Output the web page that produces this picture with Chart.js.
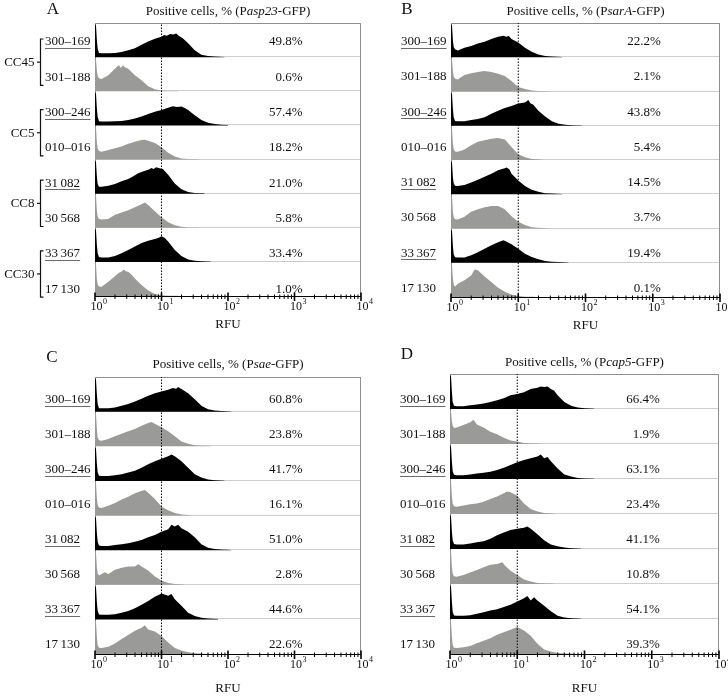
<!DOCTYPE html>
<html>
<head>
<meta charset="utf-8">
<title>GFP reporter histograms</title>
<script src="https://cdn.jsdelivr.net/npm/chart.js@4.4.0/dist/chart.umd.min.js"></script>
<style>
body { margin: 0; background: #fff; }
#fig { position: relative; width: 728px; height: 698px; }
#fig canvas { position: absolute; left: 0; top: 0; }
</style>
</head>
<body>
<div id="fig">
  <canvas id="pA" width="728" height="698"></canvas>
  <canvas id="pB" width="728" height="698"></canvas>
  <canvas id="pC" width="728" height="698"></canvas>
  <canvas id="pD" width="728" height="698"></canvas>
</div>
<script>
// ---------- data ----------
// strain rows, top to bottom (black = underlined reference strain)
var strains = ['300–169', '301–188', '300–246', '010–016', '31\u2009082', '30\u2009568', '33\u2009367', '17\u2009130'];
var isBlack = [1, 0, 1, 0, 1, 0, 1, 0];
var complexes = ['CC45', 'CC5', 'CC8', 'CC30'];
var promoters = ['asp23', 'sarA', 'sae', 'cap5'];
var tickPowers = [0, 1, 2, 3, 4];
var gateRFU = 10;

// positive cells, %
var pctA = [49.8, 0.6, 57.4, 18.2, 21.0, 5.8, 33.4, 1.0];
var pctB = [22.2, 2.1, 43.8, 5.4, 14.5, 3.7, 19.4, 0.1];
var pctC = [60.8, 23.8, 41.7, 16.1, 51.0, 2.8, 44.6, 22.6];
var pctD = [66.4, 1.9, 63.1, 23.4, 41.1, 10.8, 54.1, 39.3];

// histograms: pairs of log10(RFU), height as a share of the row
var histA = [
  [0,.97, .015,.93, .028,.5, .04,.25, .06,.12, .1,.11, .2,.11, .3,.12, .4,.15, .5,.2, .6,.26, .7,.36, .8,.46, .9,.54, 1,.6, 1.04,.65, 1.08,.63, 1.13,.68, 1.18,.66, 1.22,.69, 1.27,.61, 1.32,.55, 1.4,.41, 1.5,.2, 1.6,.07, 1.7,.03, 1.8,.015, 1.95,.006],
  [0,.97, .015,.93, .028,.6, .04,.45, .06,.38, .1,.36, .2,.47, .28,.62, .33,.72, .36,.76, .39,.68, .42,.76, .45,.7, .5,.66, .6,.47, .7,.32, .8,.15, .9,.06, 1,.02, 1.1,.01, 1.25,.004],
  [0,.97, .015,.93, .028,.5, .04,.25, .06,.12, .1,.11, .2,.11, .3,.12, .4,.13, .5,.16, .6,.2, .7,.26, .8,.33, .9,.4, 1,.45, 1.1,.52, 1.17,.56, 1.23,.54, 1.3,.55, 1.35,.51, 1.4,.45, 1.5,.3, 1.6,.16, 1.7,.08, 1.8,.04, 1.9,.02, 2,.01],
  [0,.97, .015,.93, .028,.5, .04,.32, .06,.25, .1,.23, .2,.28, .3,.33, .4,.38, .5,.46, .6,.52, .7,.57, .75,.58, .8,.55, .9,.48, 1,.36, 1.1,.2, 1.2,.09, 1.3,.03, 1.4,.015, 1.55,.005],
  [0,.97, .015,.93, .028,.5, .04,.28, .06,.2, .1,.2, .2,.23, .3,.28, .4,.36, .5,.43, .57,.5, .65,.6, .72,.65, .8,.7, .85,.75, .88,.72, .92,.77, .97,.74, 1.02,.72, 1.1,.55, 1.2,.3, 1.3,.13, 1.4,.05, 1.5,.02, 1.65,.008],
  [0,.97, .015,.93, .028,.5, .04,.32, .06,.26, .1,.24, .2,.26, .3,.38, .4,.45, .5,.51, .6,.6, .7,.69, .75,.74, .8,.67, .9,.48, 1,.31, 1.1,.16, 1.2,.07, 1.3,.03, 1.4,.01, 1.55,.004],
  [0,.97, .015,.93, .028,.5, .04,.25, .06,.14, .1,.13, .2,.13, .3,.17, .4,.25, .5,.35, .6,.45, .7,.55, .8,.62, .9,.67, .95,.7, 1,.75, 1.05,.7, 1.1,.6, 1.2,.35, 1.3,.17, 1.4,.07, 1.5,.03, 1.6,.015, 1.75,.006],
  [0,.97, .015,.93, .028,.5, .04,.34, .06,.28, .1,.27, .2,.42, .3,.58, .36,.68, .4,.71, .43,.78, .47,.72, .5,.71, .55,.62, .6,.51, .7,.32, .8,.16, .9,.06, 1,.02, 1.1,.01, 1.25,.004]
];
var histB = [
  [0,.97, .015,.93, .028,.5, .04,.3, .06,.23, .1,.2, .2,.28, .3,.33, .4,.4, .5,.45, .6,.53, .7,.6, .78,.63, .82,.6, .86,.62, .9,.53, 1,.43, 1.1,.28, 1.2,.16, 1.3,.08, 1.4,.04, 1.5,.02, 1.65,.008],
  [0,.97, .015,.93, .028,.6, .04,.44, .06,.37, .1,.35, .2,.48, .3,.53, .4,.57, .5,.6, .6,.57, .7,.52, .8,.45, .9,.31, 1,.13, 1.1,.07, 1.2,.03, 1.3,.015, 1.45,.005],
  [0,.97, .015,.93, .028,.5, .04,.25, .06,.14, .1,.13, .2,.13, .3,.17, .4,.2, .5,.25, .6,.35, .7,.44, .8,.52, .9,.58, 1,.65, 1.1,.68, 1.15,.75, 1.18,.66, 1.22,.62, 1.3,.44, 1.4,.27, 1.5,.13, 1.6,.06, 1.7,.03, 1.8,.015, 1.95,.006],
  [0,.97, .015,.93, .028,.5, .04,.32, .06,.25, .1,.24, .2,.31, .3,.43, .4,.53, .5,.58, .6,.62, .7,.64, .8,.6, .9,.38, 1,.17, 1.1,.08, 1.2,.03, 1.35,.008],
  [0,.97, .015,.93, .028,.5, .04,.32, .06,.25, .1,.24, .2,.27, .3,.34, .4,.42, .5,.51, .6,.6, .7,.7, .8,.76, .83,.78, .87,.72, .9,.6, 1,.4, 1.1,.24, 1.2,.13, 1.3,.07, 1.4,.03, 1.5,.02, 1.65,.006],
  [0,.97, .015,.93, .028,.5, .04,.33, .06,.27, .1,.26, .2,.34, .3,.49, .4,.56, .5,.62, .6,.66, .7,.66, .8,.56, .9,.36, 1,.2, 1.1,.1, 1.2,.04, 1.3,.02, 1.45,.006],
  [0,.97, .015,.93, .028,.5, .04,.25, .06,.16, .1,.15, .2,.15, .3,.22, .4,.31, .5,.41, .6,.51, .7,.6, .78,.66, .82,.62, .9,.54, 1,.41, 1.1,.26, 1.2,.17, 1.3,.1, 1.4,.05, 1.5,.03, 1.6,.02, 1.75,.007],
  [0,.97, .015,.93, .028,.55, .04,.36, .06,.3, .1,.39, .2,.49, .3,.63, .35,.8, .4,.78, .5,.6, .6,.44, .7,.27, .8,.15, .9,.07, 1,.03, 1.1,.01, 1.25,.004]
];
var histC = [
  [0,.97, .015,.93, .028,.5, .04,.22, .06,.1, .1,.1, .2,.1, .3,.12, .4,.17, .5,.22, .6,.29, .7,.37, .8,.46, .9,.53, 1,.58, 1.1,.63, 1.17,.68, 1.22,.66, 1.25,.71, 1.3,.65, 1.4,.53, 1.5,.36, 1.6,.17, 1.7,.07, 1.8,.03, 1.9,.015, 2.05,.006],
  [0,.97, .015,.93, .028,.5, .04,.25, .06,.17, .1,.16, .2,.21, .3,.29, .4,.36, .5,.43, .6,.5, .7,.59, .8,.67, .85,.7, .9,.65, 1,.55, 1.1,.43, 1.2,.29, 1.3,.14, 1.4,.07, 1.5,.03, 1.6,.015, 1.75,.005],
  [0,.97, .015,.93, .028,.5, .04,.25, .06,.15, .1,.14, .2,.14, .3,.16, .4,.19, .5,.24, .6,.29, .7,.38, .8,.48, .9,.57, 1,.64, 1.1,.71, 1.15,.76, 1.2,.71, 1.3,.57, 1.4,.38, 1.5,.19, 1.6,.1, 1.7,.04, 1.8,.02, 1.95,.006],
  [0,.97, .015,.93, .028,.5, .04,.3, .06,.23, .1,.22, .2,.28, .3,.36, .4,.46, .5,.54, .6,.64, .7,.71, .75,.74, .8,.66, .9,.48, 1,.26, 1.1,.15, 1.2,.07, 1.3,.03, 1.45,.008],
  [0,.97, .015,.93, .028,.5, .04,.25, .06,.13, .1,.12, .2,.12, .3,.15, .4,.17, .5,.2, .6,.24, .7,.29, .8,.37, .9,.44, 1,.53, 1.1,.6, 1.15,.73, 1.2,.68, 1.25,.73, 1.3,.63, 1.4,.53, 1.5,.37, 1.6,.17, 1.7,.07, 1.8,.03, 1.9,.015, 2.05,.006],
  [0,.97, .015,.93, .028,.5, .04,.33, .06,.27, .1,.31, .15,.36, .2,.31, .3,.43, .4,.49, .5,.53, .6,.53, .65,.59, .7,.53, .8,.41, .9,.24, 1,.12, 1.1,.05, 1.2,.02, 1.35,.006],
  [0,.97, .015,.93, .028,.5, .04,.25, .06,.14, .1,.13, .2,.13, .3,.15, .4,.19, .5,.24, .6,.32, .7,.42, .8,.53, .9,.65, 1,.75, 1.1,.68, 1.15,.73, 1.2,.58, 1.3,.39, 1.4,.19, 1.5,.1, 1.6,.05, 1.7,.025, 1.85,.008],
  [0,.97, .015,.93, .028,.5, .04,.25, .06,.18, .1,.17, .2,.21, .3,.3, .4,.43, .5,.55, .6,.67, .7,.76, .75,.83, .8,.71, .9,.65, 1,.52, 1.1,.33, 1.2,.17, 1.3,.1, 1.4,.05, 1.5,.02, 1.65,.006]
];
var histD = [
  [0,.97, .015,.93, .028,.5, .04,.2, .06,.09, .1,.08, .2,.08, .3,.11, .4,.13, .5,.16, .6,.2, .7,.25, .8,.31, .9,.39, 1,.43, 1.1,.48, 1.2,.57, 1.3,.61, 1.35,.64, 1.4,.63, 1.45,.64, 1.5,.57, 1.55,.52, 1.6,.39, 1.7,.2, 1.8,.09, 1.9,.04, 2,.02, 2.15,.007],
  [0,.97, .015,.93, .028,.65, .04,.52, .06,.46, .1,.47, .2,.54, .3,.62, .35,.69, .4,.56, .5,.47, .6,.35, .7,.28, .8,.18, .9,.1, 1,.07, 1.1,.03, 1.2,.015, 1.35,.005],
  [0,.97, .015,.93, .028,.5, .04,.22, .06,.12, .1,.11, .2,.11, .3,.13, .4,.16, .5,.18, .6,.21, .7,.26, .8,.32, .9,.4, 1,.48, 1.1,.54, 1.2,.59, 1.3,.64, 1.35,.7, 1.4,.59, 1.45,.63, 1.5,.51, 1.6,.3, 1.7,.13, 1.8,.07, 1.9,.03, 2,.015, 2.15,.006],
  [0,.97, .015,.93, .028,.5, .04,.29, .06,.22, .1,.21, .2,.24, .3,.28, .4,.3, .5,.35, .6,.43, .7,.5, .8,.59, .85,.64, .9,.62, 1,.52, 1.1,.3, 1.2,.14, 1.3,.07, 1.4,.03, 1.55,.008],
  [0,.97, .015,.93, .028,.5, .04,.25, .06,.14, .1,.13, .2,.13, .3,.16, .4,.19, .5,.22, .6,.29, .7,.39, .8,.47, .9,.54, 1,.58, 1.1,.61, 1.15,.64, 1.2,.58, 1.3,.42, 1.4,.25, 1.5,.13, 1.6,.08, 1.7,.04, 1.8,.02, 1.95,.007],
  [0,.97, .015,.93, .028,.5, .04,.29, .06,.22, .1,.21, .2,.26, .3,.33, .4,.4, .5,.48, .6,.55, .7,.57, .78,.62, .82,.52, .9,.38, 1,.26, 1.1,.13, 1.2,.07, 1.3,.03, 1.4,.015, 1.55,.005],
  [0,.97, .015,.93, .028,.5, .04,.2, .06,.1, .1,.09, .2,.09, .3,.11, .4,.15, .5,.19, .6,.24, .7,.28, .8,.34, .9,.41, 1,.5, 1.1,.59, 1.15,.66, 1.2,.53, 1.25,.62, 1.3,.53, 1.4,.38, 1.5,.22, 1.6,.09, 1.7,.04, 1.8,.02, 1.95,.007],
  [0,.97, .015,.93, .028,.5, .04,.25, .06,.18, .1,.17, .2,.19, .3,.23, .4,.31, .5,.38, .6,.45, .7,.55, .8,.62, .9,.69, 1,.77, 1.1,.67, 1.2,.52, 1.3,.29, 1.4,.13, 1.5,.07, 1.6,.03, 1.7,.015, 1.85,.005]
];

// ---------- look ----------
var SERIF = '"Liberation Serif", "DejaVu Serif", serif';
var GRAY = '#9a9a98';
var pctAtRFU = 1320;   // where the % column sits on the RFU axis
var W = 728, H = 698;

// plot boxes in page pixels: left, right, top, bottom
var panels = [
  { id: 'pA', letter: 'A', gene: promoters[0], hist: histA, pct: pctA, brackets: true,
    box: [95, 361, 23, 296], textOff: 19, textStep: 35.3,
    letterAt: [-42, -13], titleDy: -11, tickDy: 11, rfuDy: 29 },
  { id: 'pB', letter: 'B', gene: promoters[1], hist: histB, pct: pctB, brackets: false,
    box: [451, 720, 23, 297], textOff: 18.5, textStep: 35.3,
    letterAt: [-44, -13], titleDy: -11, tickDy: 11, rfuDy: 29 },
  { id: 'pC', letter: 'C', gene: promoters[2], hist: histC, pct: pctC, brackets: false,
    box: [95, 361, 377, 654], textOff: 23, textStep: 35,
    letterAt: [-43, -19], titleDy: -12, tickDy: 11, rfuDy: 35 },
  { id: 'pD', letter: 'D', gene: promoters[3], hist: histD, pct: pctD, brackets: false,
    box: [450, 719, 374, 654], textOff: 26, textStep: 35,
    letterAt: [-43, -19], titleDy: -11, tickDy: 11, rfuDy: 35 }
];

function seg(ctx, x1, y1, x2, y2) {
  ctx.beginPath();
  ctx.moveTo(x1, y1);
  ctx.lineTo(x2, y2);
  ctx.stroke();
}

function rowSets(hist) {
  return hist.map(function (pts, k) {
    var base = 7 - k;
    var data = [];
    for (var i = 0; i < pts.length; i += 2) {
      data.push({ x: Math.pow(10, pts[i]), y: base + pts[i + 1] });
    }
    var col = isBlack[k] ? '#000' : GRAY;
    return {
      data: data, fill: { value: base }, backgroundColor: col,
      borderColor: 'rgba(0,0,0,0)', borderWidth: 0,
      pointRadius: 0, tension: 0, order: 2
    };
  });
}

function decor(p) {
  return {
    id: 'decor',
    beforeDatasetsDraw: function (chart) {
      var ctx = chart.ctx, a = chart.chartArea, y = chart.scales.y;
      ctx.save();
      ctx.lineWidth = 1;
      ctx.strokeStyle = '#cdcdcd';
      for (var i = 1; i < 8; i++) {
        var yy = Math.round(y.getPixelForValue(i)) - 0.5;
        seg(ctx, a.left, yy, a.right, yy);
      }
      ctx.strokeStyle = '#8e8e8e';
      ctx.strokeRect(a.left + 0.5, a.top + 0.5, a.right - a.left - 1, a.bottom - a.top);
      ctx.restore();
    },
    afterDraw: function (chart) {
      var ctx = chart.ctx, a = chart.chartArea, x = chart.scales.x;
      var cx = (a.left + a.right) / 2;
      ctx.save();
      ctx.fillStyle = '#111';
      ctx.strokeStyle = '#000';

      // bottom axis with log ticks crossing the line
      var ay = Math.round(a.bottom) + 0.5;
      ctx.lineWidth = 1.2;
      seg(ctx, a.left, ay, a.right, ay);
      for (var d = 0; d < 4; d++) {
        for (var m = 2; m < 10; m++) {
          var px = x.getPixelForValue(m * Math.pow(10, d));
          ctx.lineWidth = 1;
          seg(ctx, px, ay - 2, px, ay + 2.5);
        }
      }
      tickPowers.forEach(function (pw) {
        var px = x.getPixelForValue(Math.pow(10, pw));
        ctx.lineWidth = 1.6;
        seg(ctx, px, ay - 4, px, ay + 4.5);
        ctx.font = '12px ' + SERIF;
        ctx.textAlign = 'center';
        ctx.textBaseline = 'middle';
        var w = ctx.measureText('10').width;
        ctx.fillText('10', px + 1.5, a.bottom + p.tickDy);
        ctx.font = '8px ' + SERIF;
        ctx.textAlign = 'left';
        ctx.fillText(String(pw), px + 1.5 + w / 2 + 0.5, a.bottom + p.tickDy - 5);
      });
      ctx.font = '13px ' + SERIF;
      ctx.textAlign = 'center';
      ctx.textBaseline = 'middle';
      ctx.fillText('RFU', cx, a.bottom + p.rfuDy);

      // title with italic promoter name
      var parts = [['Positive cells, % (P', ''], [p.gene, 'italic '], ['-GFP)', '']];
      var total = 0;
      parts.forEach(function (s) { ctx.font = s[1] + '13px ' + SERIF; total += ctx.measureText(s[0]).width; });
      var tx = cx - total / 2;
      ctx.textAlign = 'left';
      parts.forEach(function (s) {
        ctx.font = s[1] + '13px ' + SERIF;
        ctx.fillText(s[0], tx, a.top + p.titleDy);
        tx += ctx.measureText(s[0]).width;
      });

      // panel letter
      ctx.font = '17px ' + SERIF;
      ctx.textAlign = 'center';
      ctx.fillText(p.letter, a.left + p.letterAt[0], a.top + p.letterAt[1]);

      // strain names and percentages
      ctx.font = '13px ' + SERIF;
      var pctX = x.getPixelForValue(pctAtRFU);
      var ys = strains.map(function (s, k) { return a.top + p.textOff + k * p.textStep; });
      strains.forEach(function (s, k) {
        var lx = a.left - 50;
        ctx.textAlign = 'left';
        ctx.fillStyle = '#111';
        ctx.fillText(s, lx, ys[k]);
        if (isBlack[k]) {
          var w = ctx.measureText(s).width;
          ctx.strokeStyle = '#6a6a6a';
          ctx.lineWidth = 1;
          seg(ctx, lx, Math.round(ys[k] + 6) + 0.5, lx + w, Math.round(ys[k] + 6) + 0.5);
        }
        ctx.textAlign = 'right';
        ctx.fillText(p.pct[k].toFixed(1) + '%', pctX, ys[k]);
      });

      // clonal complex brackets
      if (p.brackets) {
        ctx.strokeStyle = '#111';
        ctx.lineWidth = 1.2;
        complexes.forEach(function (cc, g) {
          var t = ys[2 * g] - 3, b = ys[2 * g + 1] + 8, mid = (t + b) / 2;
          var bx = a.left - 54.5;
          ctx.beginPath();
          ctx.moveTo(bx + 3, t);
          ctx.lineTo(bx, t);
          ctx.lineTo(bx, b);
          ctx.lineTo(bx + 3, b);
          ctx.stroke();
          seg(ctx, bx, mid, bx - 3.5, mid);
          ctx.textAlign = 'right';
          ctx.fillText(cc, bx - 6, mid + 0.5);
        });
      }
      ctx.restore();
    }
  };
}

panels.forEach(function (p) {
  var sets = rowSets(p.hist);
  // gate line at 10 RFU
  sets.push({
    data: [{ x: gateRFU, y: 0 }, { x: gateRFU, y: 8 }],
    borderColor: '#000', borderWidth: 1, borderDash: [1.5, 1.5],
    pointRadius: 0, fill: false, order: 1
  });
  var b = p.box;
  new Chart(document.getElementById(p.id), {
    type: 'line',
    data: { datasets: sets },
    options: {
      responsive: false,
      devicePixelRatio: 1,
      animation: false,
      events: [],
      layout: { padding: { left: b[0], right: W - b[1], top: b[2], bottom: H - b[3] } },
      scales: {
        x: { type: 'logarithmic', min: 1, max: 10000, display: false },
        y: { type: 'linear', min: 0, max: 8, display: false }
      },
      plugins: { legend: { display: false }, tooltip: { enabled: false } }
    },
    plugins: [decor(p)]
  });
});
</script>
</body>
</html>
